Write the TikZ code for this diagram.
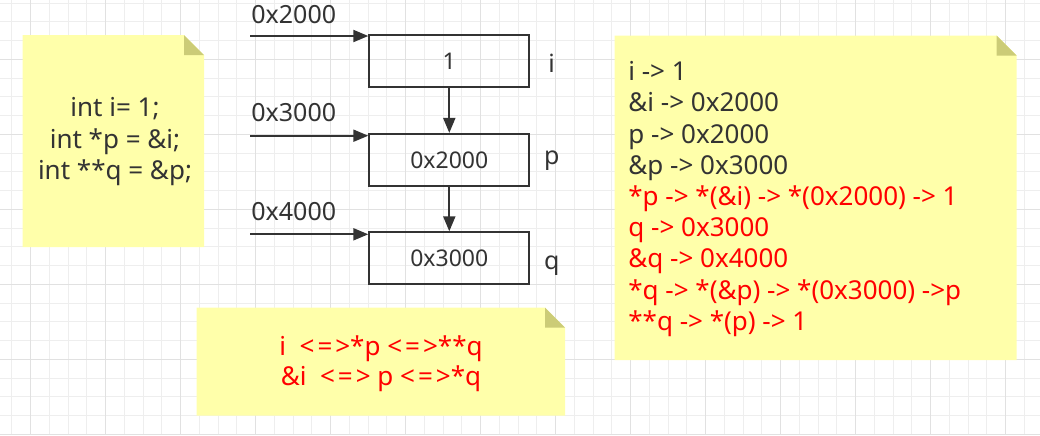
\documentclass[tikz,border=0pt]{standalone}
\usepackage{fontspec}
\setmainfont{Noto Sans}
\usetikzlibrary{arrows.meta}
\definecolor{notefill}{RGB}{255,255,170}
\definecolor{notefold}{RGB}{204,204,119}
\definecolor{ink}{RGB}{51,51,51}
\definecolor{gridminor}{RGB}{238,238,238}
\definecolor{gridmajor}{RGB}{225,225,225}
\newcommand{\ptreq}{<\kern1.5pt=\kern1.5pt>}

\begin{document}
\begin{tikzpicture}[x = .5pt, y = -.5pt,
		cell/.style = {draw=ink, line width=1pt, minimum width=80pt, minimum height=26pt, inner sep=0pt, text=ink, font=\fontsize{11.5}{14}\selectfont},
		txt/.style = {inner sep=0pt, text=ink, font=\fontsize{12.5}{15.6}\selectfont},
		memo/.style = {inner sep=0pt, text=ink, font=\fontsize{13}{15.6}\selectfont},
		ptr/.style = {draw=ink, line width=1pt, -{Triangle[length=7.5pt, width=6pt]}}]
				\useasboundingbox (0,0) rectangle (1040,435);
				\fill[white] (0,0) rectangle (1040,435);
				\foreach \k in {0,...,54}
					\draw[gridminor, line width=.5pt] (11.8+18.75*\k,0) -- (11.8+18.75*\k,435);
				\foreach \k in {0,...,23}
					\draw[gridminor, line width=.5pt] (0,3.1+18.75*\k) -- (1040,3.1+18.75*\k);
				\foreach \k in {1,5,...,53}
					\draw[gridmajor, line width=.5pt] (11.8+18.75*\k,0) -- (11.8+18.75*\k,435);
				\foreach \k in {3,7,...,23}
					\draw[gridmajor, line width=.5pt] (0,3.1+18.75*\k) -- (1040,3.1+18.75*\k);
				\foreach \nl/\nt/\nr/\nb in {22.7/35/204/247, 196.7/307.7/565/415.7, 614.7/35.7/1016.7/360} {
					\fill[notefill] (\nl,\nt) -- (\nr-20,\nt) -- (\nr,\nt+20) -- (\nr,\nb) -- (\nl,\nb) -- cycle;
					\fill[notefold] (\nr-20,\nt) -- (\nr,\nt+20) -- (\nr-20,\nt+20) -- cycle;
				}
				\node[cell] (vi) at (449.3,61.3) {1};
				\node[cell] (vp) at (449.3,159.9) {0x2000};
				\node[cell] (vq) at (449.3,258.3) {0x3000};
				\node[txt] (ni) at (551.7,63) {i};
				\node[txt] (np) at (551.7,160.8) {p};
				\node[txt] (nq) at (551.7,265.8) {q};
				\node[txt, anchor=west] (ai) at (251,15) {0x2000};
				\node[txt, anchor=west] (ap) at (251,113) {0x3000};
				\node[txt, anchor=west] (aq) at (251,212) {0x4000};
				\coordinate (si) at (250,36);
				\coordinate (sp) at (250,135.7);
				\coordinate (sq) at (250,234.3);
				\draw[ptr] (si) -- (si -| vi.west);
				\draw[ptr] (sp) -- (sp -| vp.west);
				\draw[ptr] (sq) -- (sq -| vq.west);
				\draw[ptr] (vi) -- (vp);
				\draw[ptr] (vp) -- (vq);
				\node[memo, align=center, font=\fontsize{13}{15.85}\selectfont] (code) at (115,141.7) {int i= 1;\hspace{9pt}\\int *p = \&i;\\int **q = \&p;};
				\node[memo, align=left, anchor=west] (rules) at (628,199) {i -> 1\\
					\&i -> 0x2000\\
					p -> 0x2000\\
					\&p -> 0x3000\\
					\textcolor{red}{*p -> *(\&i) -> *(0x2000) -> 1}\\
					\textcolor{red}{q -> 0x3000}\\
					\textcolor{red}{\&q -> 0x4000}\\
					\textcolor{red}{*q -> *(\&p) -> *(0x3000) ->p}\\
					\textcolor{red}{**q -> *(p) -> 1}};
				\node[memo, align=center, text=red, font=\fontsize{13}{15}\selectfont] (same) at (381,363.3) {i~ \ptreq*p \ptreq**q\\\&i~ \ptreq{} p \ptreq*q};
			\end{tikzpicture}
\end{document}
